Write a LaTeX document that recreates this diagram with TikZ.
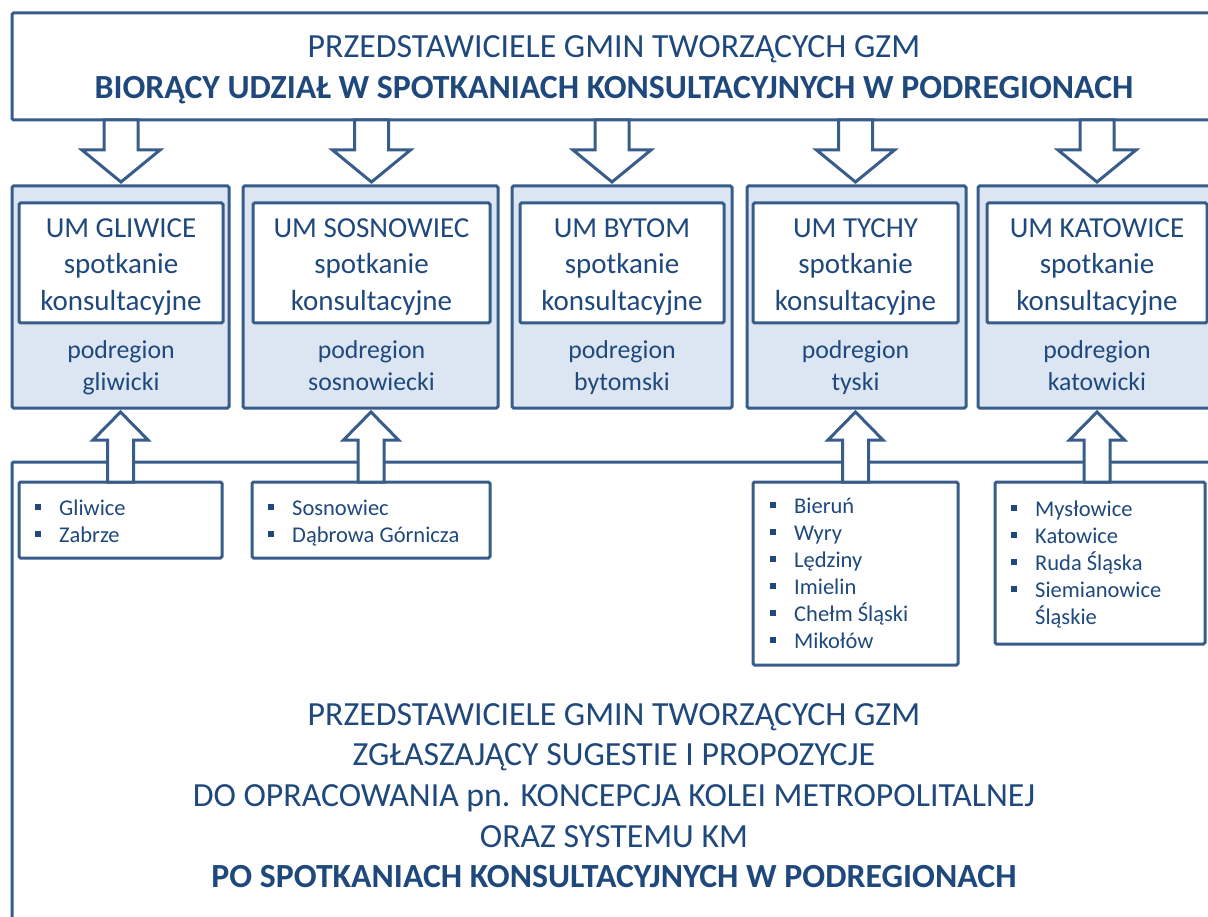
\documentclass[tikz,border=0pt]{standalone}
\usepackage{fontspec}
\setmainfont{Carlito}
\definecolor{lnc}{HTML}{385D8A}
\definecolor{txc}{HTML}{1F497D}
\definecolor{flc}{HTML}{DCE6F2}
\newcommand\itm{\rule{0pt}{20pt}\makebox[24pt][l]{\rule[5.5pt]{6pt}{6pt}}}
\newcommand\hstrut[1]{\rule{0pt}{#1pt}}
\tikzset{
  frame/.style={draw=lnc, line width=3pt, rounded corners=1.5pt, inner sep=0pt, outer sep=0pt},
  whitebox/.style={frame, fill=white},
  bluebox/.style={frame, fill=flc},
  bigtxt/.style={text=txc, align=center, inner sep=0pt, anchor=north, font=\fontsize{33.8}{41}\selectfont},
  umtxt/.style={text=txc, align=center, inner sep=0pt, anchor=north, font=\fontsize{29}{36.5}\selectfont},
  podtxt/.style={text=txc, align=center, inner sep=0pt, anchor=north, font=\fontsize{25.8}{32.5}\selectfont},
  listtxt/.style={text=txc, align=left, inner sep=0pt, anchor=north west, font=\fontsize{22.5}{27}\selectfont},
  blockarrow/.style={draw=lnc, line width=3pt, fill=white, line join=miter},
  downarr/.pic={\path[blockarrow] (-17,0) -- (-17,30) -- (-39,30) -- (0,62) -- (39,30) -- (17,30) -- (17,0) -- cycle;},
  uparr/.pic={\path[blockarrow] (-13,0) -- (-13,-42) -- (-27.5,-42) -- (0,-70) -- (27.5,-42) -- (13,-42) -- (13,0) -- cycle;}
}
\begin{document}
\begin{tikzpicture}[x=1pt,y=-1pt]
\useasboundingbox (0,0) rectangle (1208,917);
\clip (0,0) rectangle (1208,917);
\fill[white] (0,0) rectangle (1208,917);
% top box
\node[whitebox, minimum width=1204, minimum height=107] (top) at (614,66.5) {};
\node[bigtxt] (toptxt) at (614,31)
  {\hstrut{26}PRZEDSTAWICIELE GMIN TWORZĄCYCH GZM\\\textbf{BIORĄCY UDZIAŁ W SPOTKANIACH KONSULTACYJNYCH W PODREGIONACH}};
% subregion boxes
\node[bluebox, minimum width=217, minimum height=222] (sub1) at (120.5,297) {};
\node[bluebox, minimum width=255, minimum height=222] (sub2) at (370.5,297) {};
\node[bluebox, minimum width=220, minimum height=222] (sub3) at (622,297) {};
\node[bluebox, minimum width=219, minimum height=222] (sub4) at (856.5,297) {};
\node[bluebox, minimum width=252, minimum height=222] (sub5) at (1104,297) {};
\node[whitebox, minimum width=204, minimum height=120] (in1) at (121,263) {};
\node[whitebox, minimum width=237, minimum height=120] (in2) at (371.5,263) {};
\node[whitebox, minimum width=204, minimum height=120] (in3) at (622,263) {};
\node[whitebox, minimum width=205, minimum height=120] (in4) at (855.5,263) {};
\node[whitebox, minimum width=220, minimum height=120] (in5) at (1097,263) {};
\node[umtxt] (in1txt) at (121,213) {\hstrut{24}UM GLIWICE\\spotkanie\\konsultacyjne};
\node[umtxt] (in2txt) at (371.5,213) {\hstrut{24}UM SOSNOWIEC\\spotkanie\\konsultacyjne};
\node[umtxt] (in3txt) at (622,213) {\hstrut{24}UM BYTOM\\spotkanie\\konsultacyjne};
\node[umtxt] (in4txt) at (855.5,213) {\hstrut{24}UM TYCHY\\spotkanie\\konsultacyjne};
\node[umtxt] (in5txt) at (1097,213) {\hstrut{24}UM KATOWICE\\spotkanie\\konsultacyjne};
\node[podtxt] (pod1) at (121,336) {\hstrut{22}podregion\\gliwicki};
\node[podtxt] (pod2) at (371.5,336) {\hstrut{22}podregion\\sosnowiecki};
\node[podtxt] (pod3) at (622,336) {\hstrut{22}podregion\\bytomski};
\node[podtxt] (pod4) at (855.5,336) {\hstrut{22}podregion\\tyski};
\node[podtxt] (pod5) at (1097,336) {\hstrut{22}podregion\\katowicki};
% bottom box
\node[whitebox, minimum width=1204, minimum height=478] (bottom) at (614,701) {};
\node[bigtxt, font=\fontsize{33.8}{40.6}\selectfont] (bottomtxt) at (614,699)
  {\hstrut{26}PRZEDSTAWICIELE GMIN TWORZĄCYCH GZM\\ZGŁASZAJĄCY SUGESTIE I PROPOZYCJE\\DO OPRACOWANIA pn. KONCEPCJA KOLEI METROPOLITALNEJ\\ORAZ SYSTEMU KM\\\textbf{PO SPOTKANIACH KONSULTACYJNYCH W PODREGIONACH}};
% list boxes
\node[whitebox, minimum width=203, minimum height=76] (list1) at (120.5,520) {};
\node[whitebox, minimum width=238, minimum height=76] (list2) at (371,520) {};
\node[whitebox, minimum width=205, minimum height=183] (list4) at (855.5,573.5) {};
\node[whitebox, minimum width=210, minimum height=162] (list5) at (1100,563) {};
\node[listtxt] (l1txt) at (35,495) {\itm Gliwice\\\itm Zabrze};
\node[listtxt] (l2txt) at (268,495) {\itm Sosnowiec\\\itm Dąbrowa Górnicza};
\node[listtxt] (l4txt) at (770,493) {\itm Bieruń\\\itm Wyry\\\itm Lędziny\\\itm Imielin\\\itm Chełm Śląski\\\itm Mikołów};
\node[listtxt] (l5txt) at (1011,496) {\itm Mysłowice\\\itm Katowice\\\itm Ruda Śląska\\\itm Siemianowice\\\hstrut{20}\hspace*{24pt}Śląskie};
% down arrows
\pic at (top.south -| in1.center) {downarr};
\pic at (top.south -| in2.center) {downarr};
\pic at (612,120) {downarr};
\pic at (top.south -| in4.center) {downarr};
\pic at (top.south -| in5.center) {downarr};
% up arrows
\pic at (list1.north) {uparr};
\pic at (list2.north) {uparr};
\pic at (list4.north) {uparr};
\pic at (1097,482) {uparr};
\end{tikzpicture}
\end{document}
